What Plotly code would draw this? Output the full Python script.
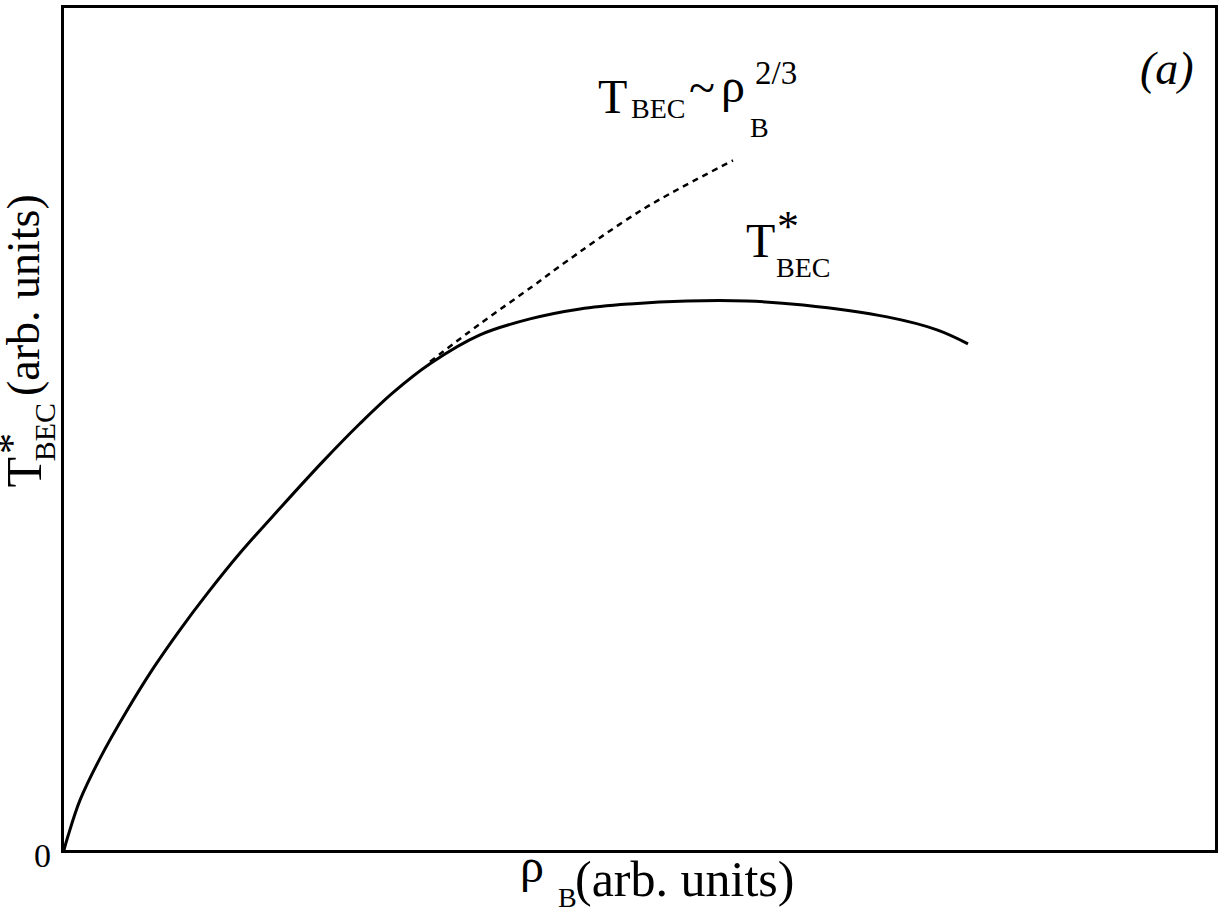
import plotly.graph_objects as go

# valores (unidades arbitrárias)
rho_b = [0, 4, 16, 36, 63, 89, 116, 143, 176, 216, 259, 296, 329, 366, 416,
         466, 516, 566, 623, 683, 739, 823, 873, 904]
t_bec_star = [0, 14, 50, 92, 140, 182, 221, 257, 298, 343, 390, 428, 459, 488,
              517, 533, 543, 548, 551, 551, 547, 535, 522, 508]

# lei T_BEC ~ rho_B^(2/3) (tracejada)
rho_b_lei = [366, 416, 469, 496, 579, 669]
t_bec_lei = [490, 528, 566, 586, 643, 692]

x_max = 1151
y_max = 845

FONTE = "Liberation Serif"
W, H = 1225, 914
L, T, R, B = 64, 5, 10, 64


def px_x(px):
    return (px - L) / (W - L - R)


def px_y(py):
    return (H - B - py) / (H - T - B)


anotacoes = []


def texto(t, esq, base, tam):
    # texto horizontal posicionado pela linha de base
    anotacoes.append(dict(
        text=t, xref="paper", yref="paper",
        x=px_x(esq), y=px_y(base + 0.216 * tam),
        xanchor="left", yanchor="bottom", showarrow=False, borderpad=0,
        font=dict(family=FONTE, size=tam, color="black")))


def texto_v(t, base_x, inicio_y, tam):
    # texto girado 90 graus (eixo y)
    anotacoes.append(dict(
        text=t, xref="paper", yref="paper", textangle=-90,
        x=px_x(base_x + 0.216 * tam), y=px_y(inicio_y),
        xanchor="right", yanchor="bottom", showarrow=False, borderpad=0,
        font=dict(family=FONTE, size=tam, color="black")))


fig = go.Figure()

fig.add_trace(go.Scatter(
    x=rho_b, y=t_bec_star, mode="lines", line_shape="spline",
    line=dict(color="black", width=3), showlegend=False))

fig.add_trace(go.Scatter(
    x=rho_b_lei, y=t_bec_lei, mode="lines", line_shape="spline",
    line=dict(color="black", width=2.5, dash="6px,5px"), showlegend=False))

# rótulo T_BEC ~ rho_B^2/3
texto("T", 597, 111, 48)
texto("BEC", 630, 116, 28)
texto("~", 688, 102, 48)
texto("ρ", 720, 100, 48)
texto("B", 749, 135, 28)
texto("2/3", 754, 82, 33)

# rótulo T*_BEC
texto("T", 745, 256, 48)
texto("*", 776, 240, 44)
texto("BEC", 775, 276, 28)

# (a)
texto("<i>(a)</i>", 1139, 82, 46)

# zero na origem
texto("0", 33, 868, 34)

# título do eixo x
texto("ρ", 519, 883, 48)
texto("B", 557, 908, 28)
texto("(arb. units)", 574, 897, 50)

# título do eixo y
texto_v("T", 42, 487, 50)
texto_v("*", 27, 454, 42)
texto_v("BEC", 55, 461, 30)
texto_v("(arb. units)", 40, 395, 46)

eixo = dict(range=[0, x_max], showgrid=False, zeroline=False, showticklabels=False,
            ticks="", showline=True, mirror=True, linecolor="black", linewidth=3)

fig.update_layout(
    width=W, height=H,
    margin=dict(l=L, r=R, t=T, b=B),
    plot_bgcolor="white", paper_bgcolor="white",
    xaxis=eixo,
    yaxis={**eixo, "range": [0, y_max]},
    annotations=anotacoes,
)

# remove a margem padrão do <body> para a figura ficar em (0, 0)
fig.write_html("out.html", config={"displayModeBar": False},
               post_script="document.body.style.margin='0';")
